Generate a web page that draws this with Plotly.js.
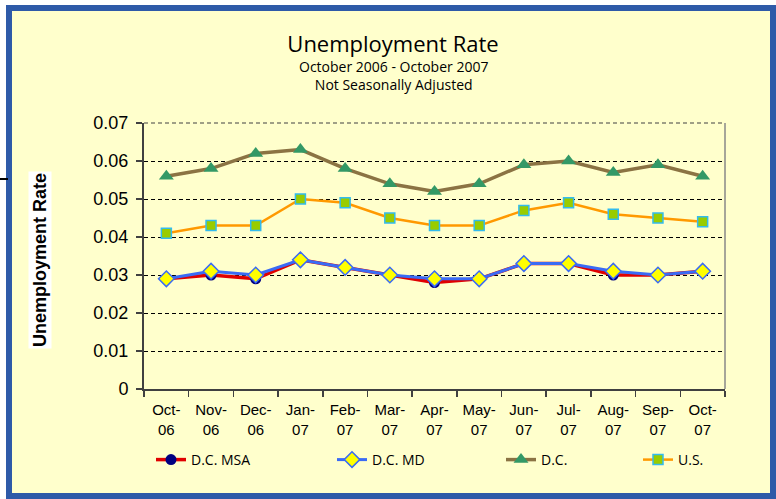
<!DOCTYPE html>
<html>
<head>
<meta charset="utf-8">
<script src="https://cdn.plot.ly/plotly-3.0.1.min.js"></script>
<style>
  html, body { margin: 0; padding: 0; background: #ffffff; }
  #chart { width: 776px; height: 499px; }
</style>
</head>
<body>
<div id="chart"></div>
<script>
// ---- Data ----
var months = ['Oct-06','Nov-06','Dec-06','Jan-07','Feb-07','Mar-07','Apr-07','May-07','Jun-07','Jul-07','Aug-07','Sep-07','Oct-07'];
var monthLabels = ['Oct-<br>06','Nov-<br>06','Dec-<br>06','Jan-<br>07','Feb-<br>07','Mar-<br>07','Apr-<br>07','May-<br>07','Jun-<br>07','Jul-<br>07','Aug-<br>07','Sep-<br>07','Oct-<br>07'];
var dcMSA = [0.029, 0.030, 0.029, 0.034, 0.032, 0.030, 0.028, 0.029, 0.033, 0.033, 0.030, 0.030, 0.031];
var dcMD  = [0.029, 0.031, 0.030, 0.034, 0.032, 0.030, 0.029, 0.029, 0.033, 0.033, 0.031, 0.030, 0.031];
var dc    = [0.056, 0.058, 0.062, 0.063, 0.058, 0.054, 0.052, 0.054, 0.059, 0.060, 0.057, 0.059, 0.056];
var us    = [0.041, 0.043, 0.043, 0.050, 0.049, 0.045, 0.043, 0.043, 0.047, 0.049, 0.046, 0.045, 0.044];
var seriesNames = ['D.C. MSA', 'D.C. MD', 'D.C.', 'U.S.'];
var yTicks = [0, 0.01, 0.02, 0.03, 0.04, 0.05, 0.06, 0.07];
var yTickLabels = ['0','0.01','0.02','0.03','0.04','0.05','0.06','0.07'];

// ---- Geometry helpers (plot area in px) ----
var L = 144, R = 51, T = 123, B = 110, W = 776, H = 499;
var PW = W - L - R, PH = H - T - B;
function px(x) { return (x - L) / PW; }
function py(y) { return (H - B - y) / PH; }

var humanist = 'Open Sans, Liberation Sans, Arial, sans-serif';
var arial = 'Liberation Sans, Arial, sans-serif';
var legendFont = {family: humanist, size: 14, color: '#000'};

var traces = [
  {x: months, y: dcMSA, name: seriesNames[0], type: 'scatter', mode: 'lines+markers', legend: 'legend',
   line: {color: '#E00000', width: 3.5},
   marker: {symbol: 'circle', size: 11, color: '#000080', line: {color: '#000080', width: 0}}},
  {x: months, y: dcMD, name: seriesNames[1], type: 'scatter', mode: 'lines+markers', legend: 'legend2',
   line: {color: '#3A6BF5', width: 3},
   marker: {symbol: 'diamond', size: 12, color: '#FFFF00', line: {color: '#3A6BF5', width: 1.5}}},
  {x: months, y: dc, name: seriesNames[2], type: 'scatter', mode: 'lines+markers', legend: 'legend3',
   line: {color: '#8B7343', width: 3.5},
   marker: {symbol: 'triangle-up', size: 13, color: '#339966', line: {width: 0}}},
  {x: months, y: us, name: seriesNames[3], type: 'scatter', mode: 'lines+markers', legend: 'legend4',
   line: {color: '#FF9900', width: 2.5},
   marker: {symbol: 'square', size: 10, color: '#99CC00', line: {color: '#33BBEE', width: 1.5}}}
];

function leg(xpx) {
  return {orientation: 'h', x: px(xpx), xanchor: 'left', y: py(460), yanchor: 'middle',
          bgcolor: 'rgba(0,0,0,0)', borderwidth: 0, font: legendFont};
}

var layout = {
  width: W, height: H,
  margin: {l: L, r: R, t: T, b: B, pad: 0},
  paper_bgcolor: '#ffffff',
  plot_bgcolor: '#FFFFCC',
  showlegend: true,
  title: {text: 'Unemployment Rate', x: 393 / W, xanchor: 'center', xref: 'container',
          y: 1 - 44 / H, yanchor: 'middle', yref: 'container',
          font: {family: humanist, size: 22, color: '#000'}},
  xaxis: {
    type: 'category', range: [-0.5, 12.5],
    tickvals: months, ticktext: monthLabels,
    tickson: 'boundaries', ticks: 'outside', ticklen: 6, tickcolor: '#404040', tickwidth: 1.5,
    showline: true, linecolor: '#404040', linewidth: 2,
    showgrid: false, zeroline: false,
    tickfont: {family: arial, size: 15, color: '#000'},
    ticklabelstandoff: 6,
    fixedrange: true
  },
  yaxis: {
    range: [0, 0.07], tickvals: yTicks, ticktext: yTickLabels,
    ticks: 'outside', ticklen: 6, tickcolor: '#404040', tickwidth: 1.5,
    showline: true, linecolor: '#404040', linewidth: 2,
    showgrid: true, gridcolor: '#000000', gridwidth: 1, griddash: '4px,3px',
    zeroline: false,
    tickfont: {family: arial, size: 18, color: '#000'},
    ticklabelstandoff: 4,
    fixedrange: true
  },
  legend: leg(151),
  legend2: leg(332),
  legend3: leg(501),
  legend4: leg(638),
  shapes: [
    {type: 'rect', xref: 'paper', yref: 'paper', layer: 'below',
     x0: px(9), x1: px(773), y0: py(496), y1: py(8),
     fillcolor: '#FFFFCC', line: {color: '#2E5AA8', width: 6}},
    {type: 'line', xref: 'paper', yref: 'paper', x0: px(0), x1: px(8), y0: py(179), y1: py(179),
     line: {color: '#000000', width: 2}},
    {type: 'line', xref: 'paper', yref: 'paper', x0: 0, x1: 1, y0: 1, y1: 1,
     line: {color: '#404040', width: 1, dash: '4px,3px'}},
    {type: 'line', xref: 'paper', yref: 'paper', x0: 1, x1: 1, y0: 0, y1: 1,
     line: {color: '#888888', width: 1.5}}
  ],
  annotations: [
    {text: 'October 2006 - October 2007<br>Not Seasonally Adjusted', xref: 'paper', yref: 'paper',
     x: px(393), y: py(75), xanchor: 'center', yanchor: 'middle', align: 'center', showarrow: false,
     font: {family: humanist, size: 14, color: '#000'}},
    {text: '<b>Unemployment Rate</b>', xref: 'paper', yref: 'paper', x: px(40), y: py(260),
     xanchor: 'center', yanchor: 'middle', showarrow: false, textangle: -90,
     bgcolor: '#ffffff', borderpad: 1,
     font: {family: arial, size: 18, color: '#000'}}
  ]
};

Plotly.newPlot('chart', traces, layout, {displayModeBar: false, staticPlot: true});
</script>
</body>
</html>
